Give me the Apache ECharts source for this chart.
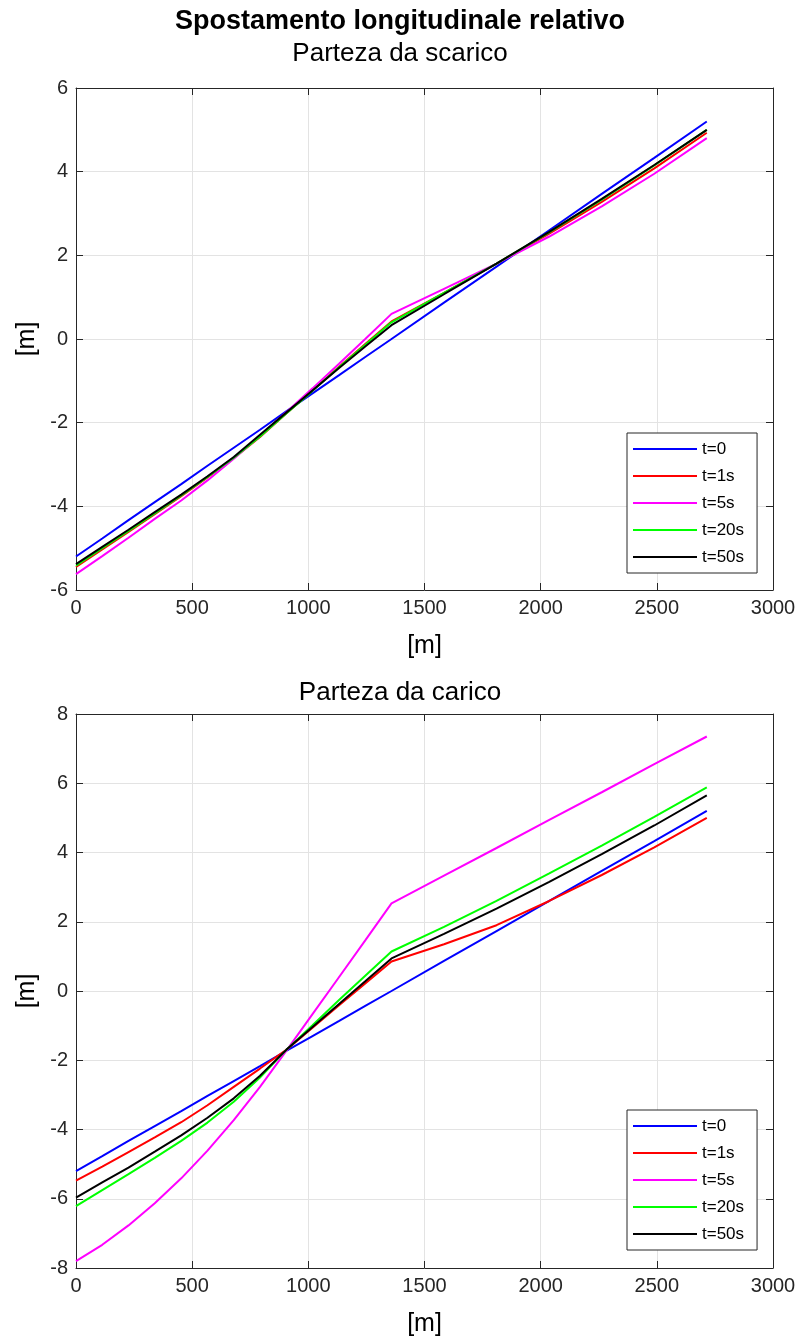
<!DOCTYPE html>
<html>
<head>
<meta charset="utf-8">
<script src="https://cdn.jsdelivr.net/npm/echarts@6/dist/echarts.min.js"></script>
<style>
  html, body { margin: 0; padding: 0; background: #fff; }
  #chart { width: 800px; height: 1343px; }
</style>
</head>
<body>
<div id="chart"></div>
<script>
// x positions along the line [m]
const xPos = [0, 113, 226, 339, 453, 566, 679, 792, 905, 1018, 1131, 1245, 1358, 1584, 1810, 2037, 2263, 2489, 2715];
const seriesNames = ["t=0", "t=1s", "t=5s", "t=20s", "t=50s"];
const colors = ["#0000ff", "#ff0000", "#ff00ff", "#00ff00", "#000000"];

// Parteza da scarico
const topT0  = [-5.2, -4.77, -4.33, -3.9, -3.47, -3.03, -2.6, -2.17, -1.73, -1.3, -0.87, -0.43, 0.0, 0.87, 1.73, 2.6, 3.47, 4.33, 5.2];
const topT1  = [-5.45, -5.03, -4.61, -4.19, -3.76, -3.31, -2.85, -2.34, -1.78, -1.23, -0.67, -0.12, 0.42, 1.1, 1.8, 2.52, 3.28, 4.08, 4.93];
const topT5  = [-5.62, -5.19, -4.75, -4.3, -3.86, -3.38, -2.86, -2.31, -1.75, -1.18, -0.6, 0.0, 0.6, 1.2, 1.8, 2.45, 3.17, 3.95, 4.8];
const topT20 = [-5.42, -5.0, -4.59, -4.17, -3.74, -3.3, -2.84, -2.33, -1.78, -1.24, -0.68, -0.14, 0.4, 1.1, 1.8, 2.55, 3.33, 4.15, 5.0];
const topT50 = [-5.38, -4.97, -4.56, -4.14, -3.72, -3.28, -2.82, -2.29, -1.76, -1.23, -0.7, -0.18, 0.33, 1.07, 1.8, 2.56, 3.35, 4.16, 5.0];

// Parteza da carico
const botT0  = [-5.2, -4.77, -4.33, -3.9, -3.47, -3.03, -2.6, -2.17, -1.73, -1.3, -0.87, -0.43, 0.0, 0.87, 1.73, 2.6, 3.47, 4.33, 5.2];
const botT1  = [-5.48, -5.07, -4.65, -4.23, -3.79, -3.3, -2.77, -2.24, -1.7, -1.06, -0.42, 0.22, 0.85, 1.35, 1.9, 2.6, 3.35, 4.15, 5.0];
const botT5  = [-7.8, -7.33, -6.77, -6.13, -5.41, -4.61, -3.73, -2.77, -1.73, -0.67, 0.39, 1.46, 2.53, 3.33, 4.13, 4.94, 5.74, 6.55, 7.35];
const botT20 = [-6.21, -5.75, -5.29, -4.82, -4.33, -3.8, -3.2, -2.5, -1.7, -0.99, -0.27, 0.44, 1.14, 1.85, 2.6, 3.4, 4.2, 5.03, 5.88];
const botT50 = [-5.97, -5.53, -5.1, -4.64, -4.17, -3.66, -3.1, -2.45, -1.7, -1.04, -0.38, 0.28, 0.94, 1.65, 2.38, 3.15, 3.95, 4.78, 5.65];

const topSets = [topT0, topT1, topT5, topT20, topT50];
const botSets = [botT0, botT1, botT5, botT20, botT50];

const font = "Liberation Sans";
const axisColor = "#262626";
const gridColor = "#e3e3e3";

const chart = echarts.init(document.getElementById("chart"));

function mainX(gridIndex) {
  return {
    type: "value", gridIndex, min: 0, max: 3000, interval: 500,
    name: "[m]", nameLocation: "middle", nameGap: 44,
    nameTextStyle: { fontSize: 25, color: "#000", fontFamily: font },
    axisLine: { show: true, onZero: false, lineStyle: { color: axisColor, width: 1 } },
    axisTick: { show: true, inside: true, length: 7, lineStyle: { color: axisColor } },
    axisLabel: { fontSize: 20, color: axisColor, fontFamily: font, margin: 8, formatter: v => String(v) },
    splitLine: { show: true, lineStyle: { color: gridColor, width: 1 } }
  };
}
function mainY(gridIndex, min, max) {
  return {
    type: "value", gridIndex, min, max, interval: 2,
    name: "[m]", nameLocation: "middle", nameGap: 36,
    nameTextStyle: { fontSize: 25, color: "#000", fontFamily: font },
    axisLine: { show: true, onZero: false, lineStyle: { color: axisColor, width: 1 } },
    axisTick: { show: true, inside: true, length: 7, lineStyle: { color: axisColor } },
    axisLabel: { fontSize: 20, color: axisColor, fontFamily: font, margin: 8, formatter: v => String(v) },
    splitLine: { show: true, lineStyle: { color: gridColor, width: 1 } }
  };
}
function boxX(gridIndex) {
  return {
    type: "value", gridIndex, min: 0, max: 3000, interval: 500, position: "top",
    axisLine: { show: true, onZero: false, lineStyle: { color: axisColor, width: 1 } },
    axisTick: { show: true, inside: true, length: 7, lineStyle: { color: axisColor } },
    axisLabel: { show: false }, splitLine: { show: false }
  };
}
function boxY(gridIndex, min, max) {
  return {
    type: "value", gridIndex, min, max, interval: 2, position: "right",
    axisLine: { show: true, onZero: false, lineStyle: { color: axisColor, width: 1 } },
    axisTick: { show: true, inside: true, length: 7, lineStyle: { color: axisColor } },
    axisLabel: { show: false }, splitLine: { show: false }
  };
}
function legendAt(top) {
  return {
    left: 627, top, orient: "vertical",
    backgroundColor: "#fff", borderColor: axisColor, borderWidth: 1, borderRadius: 0,
    padding: [7, 13, 7, 6], itemGap: 9, itemWidth: 64, itemHeight: 2, icon: "rect",
    textStyle: { fontSize: 17, color: "#000", fontFamily: font, lineHeight: 18 },
    data: seriesNames.map(n => ({ name: n, icon: "rect" })),
    selectedMode: false
  };
}

const series = [];
[topSets, botSets].forEach((sets, g) => {
  sets.forEach((vals, i) => {
    series.push({
      name: seriesNames[i], type: "line", xAxisIndex: g, yAxisIndex: g,
      data: xPos.map((x, k) => [x, vals[k]]),
      showSymbol: false, smooth: false,
      lineStyle: { color: colors[i], width: 2 }, itemStyle: { color: colors[i] },
      z: 3 + i
    });
  });
});

chart.setOption({
  animation: false,
  textStyle: { fontFamily: font },
  title: [
    { text: "Spostamento longitudinale relativo", left: "center", top: 3,
      textStyle: { fontSize: 27, fontWeight: "bold", color: "#000", fontFamily: font } },
    { text: "Parteza da scarico", left: "center", top: 36,
      textStyle: { fontSize: 26, fontWeight: "normal", color: "#000", fontFamily: font } },
    { text: "Parteza da carico", left: "center", top: 675,
      textStyle: { fontSize: 26, fontWeight: "normal", color: "#000", fontFamily: font } }
  ],
  grid: [
    { left: 76, top: 88, width: 697, height: 502 },
    { left: 76, top: 714, width: 697, height: 554 }
  ],
  xAxis: [mainX(0), mainX(1), boxX(0), boxX(1)],
  yAxis: [mainY(0, -6, 6), mainY(1, -8, 8), boxY(0, -6, 6), boxY(1, -8, 8)],
  legend: [legendAt(433), legendAt(1110)],
  series
});
</script>
</body>
</html>
